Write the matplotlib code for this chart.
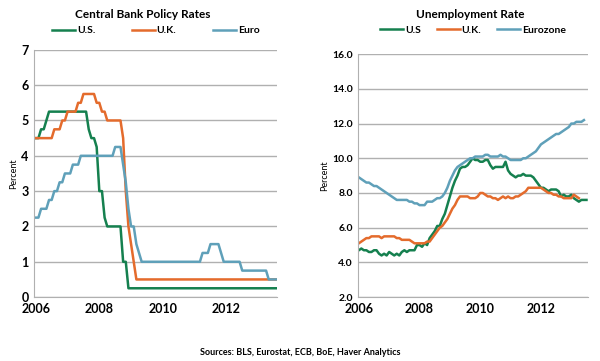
import numpy as np
import matplotlib
matplotlib.use('Agg')
import matplotlib.pyplot as plt

plt.rcParams['font.family'] = ['Lato', 'DejaVu Sans']

# monthly, Jan 2006 - Aug 2013
us_rate = [4.5, 4.5, 4.75, 4.75, 5.0, 5.25, 5.25, 5.25, 5.25, 5.25, 5.25, 5.25,
           5.25, 5.25, 5.25, 5.25, 5.25, 5.25, 5.25, 5.25, 4.75, 4.5, 4.5, 4.25,
           3.0, 3.0, 2.25, 2.0, 2.0, 2.0, 2.0, 2.0, 2.0, 1.0, 1.0, 0.25] + [0.25] * 56
uk_rate = [4.5, 4.5, 4.5, 4.5, 4.5, 4.5, 4.5, 4.75, 4.75, 4.75, 5.0, 5.0,
           5.25, 5.25, 5.25, 5.25, 5.5, 5.5, 5.75, 5.75, 5.75, 5.75, 5.75, 5.5,
           5.5, 5.25, 5.25, 5.0, 5.0, 5.0, 5.0, 5.0, 5.0, 4.5, 3.0, 2.0,
           1.5, 1.0, 0.5] + [0.5] * 53
euro_rate = [2.25, 2.25, 2.5, 2.5, 2.5, 2.75, 2.75, 3.0, 3.0, 3.25, 3.25, 3.5,
             3.5, 3.5, 3.75, 3.75, 3.75, 4.0, 4.0, 4.0, 4.0, 4.0, 4.0, 4.0,
             4.0, 4.0, 4.0, 4.0, 4.0, 4.0, 4.25, 4.25, 4.25, 3.75, 3.25, 2.5,
             2.0, 2.0, 1.5, 1.25, 1.0, 1.0, 1.0, 1.0, 1.0, 1.0, 1.0, 1.0,
             1.0, 1.0, 1.0, 1.0, 1.0, 1.0, 1.0, 1.0, 1.0, 1.0, 1.0, 1.0,
             1.0, 1.0, 1.0, 1.25, 1.25, 1.25, 1.5, 1.5, 1.5, 1.5, 1.25, 1.0,
             1.0, 1.0, 1.0, 1.0, 1.0, 1.0, 0.75, 0.75, 0.75, 0.75, 0.75, 0.75,
             0.75, 0.75, 0.75, 0.75, 0.5, 0.5, 0.5, 0.5]

# monthly unemployment
us_unemp = [4.7, 4.8, 4.7, 4.7, 4.6, 4.6, 4.7, 4.7, 4.5, 4.4, 4.5, 4.4,
            4.6, 4.5, 4.4, 4.5, 4.4, 4.6, 4.7, 4.6, 4.7, 4.7, 4.7, 5.0,
            5.0, 4.9, 5.1, 5.0, 5.4, 5.6, 5.8, 6.1, 6.1, 6.5, 6.8, 7.3,
            7.8, 8.3, 8.7, 9.0, 9.4, 9.5, 9.5, 9.6, 9.8, 10.0, 9.9, 9.9,
            9.8, 9.8, 9.9, 9.9, 9.6, 9.4, 9.5, 9.5, 9.5, 9.5, 9.8, 9.3,
            9.1, 9.0, 8.9, 9.0, 9.0, 9.1, 9.0, 9.0, 9.0, 8.9, 8.7, 8.5,
            8.3, 8.3, 8.2, 8.1, 8.2, 8.2, 8.2, 8.1, 7.8, 7.9, 7.8, 7.8,
            7.9, 7.7, 7.6, 7.5, 7.6, 7.6, 7.6]
uk_unemp = [5.1, 5.2, 5.3, 5.4, 5.4, 5.5, 5.5, 5.5, 5.5, 5.4, 5.5, 5.5,
            5.5, 5.5, 5.5, 5.4, 5.4, 5.3, 5.3, 5.3, 5.3, 5.2, 5.1, 5.1,
            5.1, 5.1, 5.1, 5.2, 5.2, 5.4, 5.6, 5.8, 6.0, 6.1, 6.3, 6.5,
            6.8, 7.1, 7.3, 7.6, 7.8, 7.8, 7.8, 7.8, 7.7, 7.7, 7.7, 7.8,
            8.0, 8.0, 7.9, 7.8, 7.8, 7.7, 7.7, 7.6, 7.7, 7.8, 7.7, 7.8,
            7.7, 7.7, 7.8, 7.8, 7.9, 8.0, 8.1, 8.3, 8.3, 8.3, 8.3, 8.3,
            8.3, 8.2, 8.1, 8.0, 8.0, 7.9, 7.9, 7.8, 7.8, 7.7, 7.7, 7.7,
            7.7, 7.9, 7.8, 7.7]
ez_unemp = [8.9, 8.8, 8.7, 8.6, 8.6, 8.5, 8.4, 8.4, 8.3, 8.2, 8.1, 8.0,
            7.9, 7.8, 7.7, 7.6, 7.6, 7.6, 7.6, 7.6, 7.5, 7.5, 7.4, 7.4,
            7.3, 7.3, 7.3, 7.5, 7.5, 7.5, 7.6, 7.7, 7.7, 7.8, 8.0, 8.3,
            8.7, 9.0, 9.3, 9.5, 9.6, 9.7, 9.8, 9.9, 10.0, 10.0, 10.1, 10.1,
            10.1, 10.1, 10.2, 10.2, 10.1, 10.1, 10.1, 10.1, 10.2, 10.1, 10.1, 10.0,
            9.9, 9.9, 9.9, 9.9, 9.9, 10.0, 10.0, 10.1, 10.2, 10.3, 10.4, 10.6,
            10.8, 10.9, 11.0, 11.1, 11.2, 11.3, 11.4, 11.4, 11.5, 11.6, 11.7, 11.8,
            12.0, 12.0, 12.1, 12.1, 12.1, 12.2]

green = '#15804f'
orange = '#e46b2c'
blue = '#5fa0b9'
grid_c = '#b0b0b0'


def months(n):
    return 2006 + np.arange(n) / 12.0


def style(ax):
    ax.grid(axis='y', color=grid_c, lw=1)
    ax.set_axisbelow(True)
    for s in ['top', 'right']:
        ax.spines[s].set_visible(False)
    ax.spines['left'].set_color(grid_c)
    ax.spines['bottom'].set_color(grid_c)
    ax.tick_params(length=0, pad=4)
    ax.set_xticks([2006, 2008, 2010, 2012])
    for lab in ax.get_xticklabels():
        lab.set_fontweight('bold')
        lab.set_fontsize(9)


fig = plt.figure(figsize=(6, 3.61), dpi=100)

ax1 = fig.add_axes([0.057, 0.177, 0.405, 0.685])
ax1.plot(months(len(us_rate)), us_rate, color=green, lw=1.8, label='U.S.')
ax1.plot(months(len(uk_rate)), uk_rate, color=orange, lw=1.8, label='U.K.')
ax1.plot(months(len(euro_rate)), euro_rate, color=blue, lw=1.8, label='Euro')
ax1.set_ylim(0, 7)
ax1.set_xlim(2006 - 0.05, 2013.6)
ax1.set_yticks(range(0, 8))
style(ax1)
for lab in ax1.get_yticklabels():
    lab.set_fontweight('bold')
    lab.set_fontsize(9)
ax1.set_ylabel('Percent', fontsize=6.5, labelpad=2)
ax1.legend(loc='lower center', bbox_to_anchor=(0.5, 1.02), ncol=3, frameon=False,
           fontsize=7.5, handlelength=2.2, handletextpad=0.2, columnspacing=3.5,
           prop={'weight': 'bold', 'size': 7.5})
fig.text(0.238, 0.975, 'Central Bank Policy Rates', ha='center', va='top',
         fontsize=8.5, fontweight='bold')

ax2 = fig.add_axes([0.597, 0.177, 0.383, 0.673])
ax2.plot(months(len(us_unemp)), us_unemp, color=green, lw=1.8, label='U.S')
ax2.plot(months(len(uk_unemp)), uk_unemp, color=orange, lw=1.8, label='U.K.')
ax2.plot(months(len(ez_unemp)), ez_unemp, color=blue, lw=1.8, label='Eurozone')
ax2.set_ylim(2, 16)
ax2.set_xlim(2006 - 0.02, 2013.55)
ax2.set_yticks(np.arange(2, 17, 2))
ax2.set_yticklabels(['%.1f' % v for v in np.arange(2, 17, 2)])
style(ax2)
for lab in ax2.get_yticklabels():
    lab.set_fontweight('bold')
    lab.set_fontsize(7.5)
ax2.set_ylabel('Percent', fontsize=6.5, labelpad=2)
ax2.legend(loc='lower center', bbox_to_anchor=(0.5, 1.04), ncol=3, frameon=False,
           handlelength=2.2, handletextpad=0.2, columnspacing=1.5,
           prop={'weight': 'bold', 'size': 7.5})
fig.text(0.783, 0.975, 'Unemployment Rate', ha='center', va='top',
         fontsize=8.5, fontweight='bold')

fig.text(0.5, 0.01, 'Sources: BLS, Eurostat, ECB, BoE, Haver Analytics', ha='center',
         va='bottom', fontsize=6.5, fontweight='bold')

fig.savefig('out.png', dpi=100)
